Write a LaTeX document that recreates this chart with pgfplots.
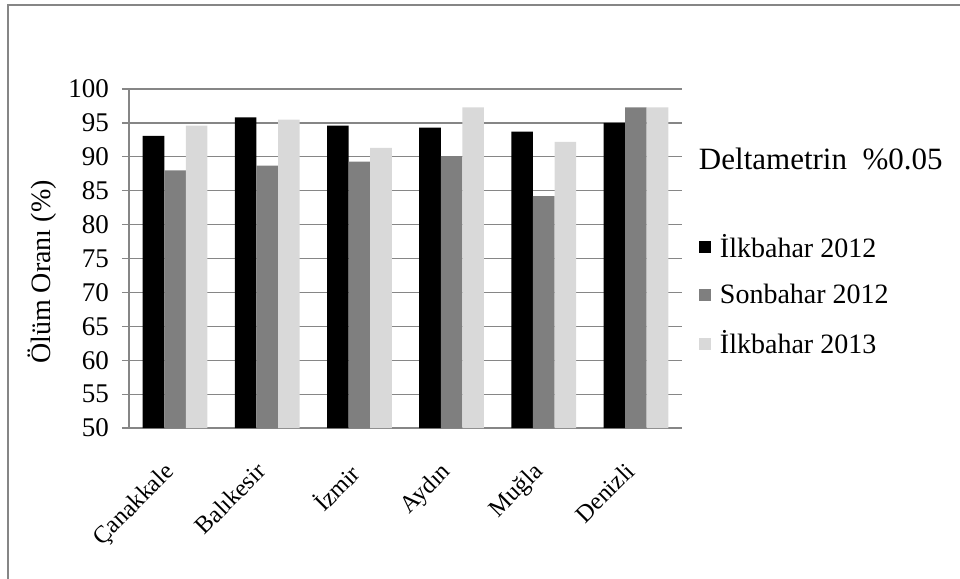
\documentclass[border=0pt]{standalone}
\usepackage{pgfplots}
\pgfplotsset{compat=1.18}
\usepackage{fontspec}
\setmainfont{Liberation Serif}
\definecolor{axgray}{HTML}{868686}
\definecolor{sgray}{HTML}{7F7F7F}
\definecolor{lgray}{HTML}{D9D9D9}
\newcommand{\fs}{\fontsize{13.5}{16}\selectfont}
\begin{document}
\begin{tikzpicture}
\useasboundingbox (0,0) rectangle (480pt,289.5pt);
\draw[axgray, line width=0.6pt] (4pt,0) -- (4pt,287pt) -- (480pt,287pt);
\begin{axis}[
  at={(64.5pt,75.5pt)}, anchor=south west,
  scale only axis, width=276.5pt, height=169.5pt,
  ymin=50, ymax=100, ytick={50,55,...,100},
  xmin=-0.5, xmax=5.5, xtick={0,1,2,3,4,5},
  xticklabels={Çanakkale,Balıkesir,İzmir,Aydın,Muğla,Denizli},
  axis x line*=bottom, axis y line*=left,
  axis line style={axgray, line width=0.6pt},
  ymajorgrids, grid style={axgray, line width=0.6pt},
  major x tick style={draw=none},
  major y tick style={axgray, line width=0.6pt},
  tick align=outside, major tick length=3.5pt,
  /pgf/number format/assume math mode=true,
  yticklabel style={font=\fs, xshift=-3pt},
  xticklabel style={font=\fontsize{12.2}{14.5}\selectfont, rotate=45, anchor=north east, xshift=-10pt, yshift=-1.5pt},
  ylabel={Ölüm Oranı (\%)}, ylabel style={font=\fontsize{14}{16}\selectfont, anchor=center, at={(axis description cs:-0.157,0.46)}},
  ybar=0pt, bar width=10.8pt,
  legend style={draw=none, at={(axis description cs:1.03,0.585)}, anchor=north west,
    font=\fontsize{14}{16.5}\selectfont, row sep=8pt, inner sep=0pt,
    legend cell align=left},
  legend image code/.code={\fill[#1] (0pt,-3pt) rectangle (6pt,3pt);},
  clip=false,
]
\addplot[fill=black, draw=none] coordinates {(0,93.1) (1,95.8) (2,94.6) (3,94.3) (4,93.7) (5,95.0)};
\addplot[fill=sgray, draw=none] coordinates {(0,88.0) (1,88.7) (2,89.3) (3,90.1) (4,84.2) (5,97.3)};
\addplot[fill=lgray, draw=none] coordinates {(0,94.6) (1,95.5) (2,91.3) (3,97.3) (4,92.2) (5,97.3)};
\legend{\hspace{2.5pt}İlkbahar 2012, \hspace{2.5pt}Sonbahar 2012, \hspace{2.5pt}İlkbahar 2013}
\node[anchor=west, font=\fontsize{15.5}{18}\selectfont, inner sep=0pt] at (axis description cs:1.03,0.795) {Deltametrin\ \ \%0.05};
\end{axis}
\end{tikzpicture}
\end{document}
